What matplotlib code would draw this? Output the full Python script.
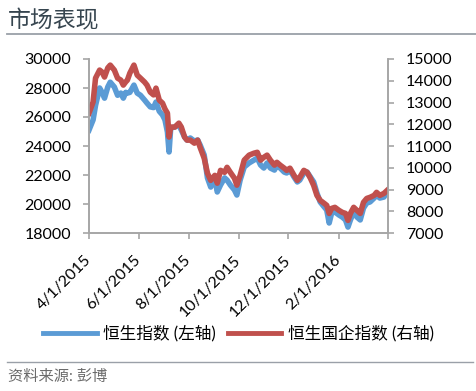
import pandas as pd
import matplotlib.pyplot as plt
from matplotlib.lines import Line2D

plt.rcParams['font.family'] = ['Lato', 'Noto Sans CJK SC', 'DejaVu Sans']

dates = [
    "2015-04-01", "2015-04-06", "2015-04-09", "2015-04-14", "2015-04-17", "2015-04-20",
    "2015-04-24", "2015-04-27", "2015-05-02", "2015-05-06", "2015-05-10", "2015-05-13",
    "2015-05-16", "2015-05-18", "2015-05-21", "2015-05-26", "2015-05-30", "2015-06-03",
    "2015-06-08", "2015-06-11", "2015-06-15", "2015-06-19", "2015-06-22", "2015-06-26",
    "2015-06-30", "2015-07-03", "2015-07-06", "2015-07-08", "2015-07-10", "2015-07-15",
    "2015-07-20", "2015-07-23", "2015-07-27", "2015-07-30", "2015-08-03", "2015-08-08",
    "2015-08-12", "2015-08-15", "2015-08-20", "2015-08-24", "2015-08-28", "2015-09-02",
    "2015-09-05", "2015-09-09", "2015-09-14", "2015-09-17", "2015-09-21", "2015-09-26",
    "2015-09-29", "2015-10-03", "2015-10-08", "2015-10-14", "2015-10-20", "2015-10-24",
    "2015-10-28", "2015-11-01", "2015-11-05", "2015-11-09", "2015-11-14", "2015-11-17",
    "2015-11-21", "2015-11-26", "2015-11-29", "2015-12-03", "2015-12-08", "2015-12-12",
    "2015-12-15", "2015-12-20", "2015-12-24", "2015-12-28", "2016-01-01", "2016-01-05",
    "2016-01-09", "2016-01-14", "2016-01-17", "2016-01-20", "2016-01-23", "2016-01-27",
    "2016-02-01", "2016-02-05", "2016-02-09", "2016-02-12", "2016-02-15", "2016-02-19",
    "2016-02-23", "2016-02-27", "2016-03-02", "2016-03-06", "2016-03-10", "2016-03-15",
    "2016-03-18", "2016-03-22", "2016-03-27", "2016-03-31",
]

# 恒生指数 (left axis)
hsi = [
    25100, 25800, 26800, 28000, 27700, 27300,
    28070, 28400, 28070, 27500, 27650, 27300,
    27700, 27650, 27700, 28200, 27650, 27500,
    27170, 26960, 26700, 26650, 27030, 26400,
    26140, 25800, 24970, 23590, 25240, 25310,
    25450, 25100, 24620, 24410, 24550, 24340,
    24410, 24070, 23380, 21800, 21170, 21800,
    20830, 21310, 21800, 21650, 21310, 20970,
    20620, 21650, 22550, 22830, 23030, 23170,
    22690, 22480, 22830, 22480, 22340, 22690,
    22480, 22200, 22140, 22340, 21860, 21520,
    21650, 22140, 22200, 21860, 21520, 20760,
    20140, 19790, 19590, 18690, 19380, 19450,
    19240, 19100, 18900, 18410, 18900, 19450,
    19100, 18900, 19720, 20070, 20140, 20410,
    20620, 20410, 20480, 20830,
]

# 恒生国企指数 (right axis)
hscei = [
    12510, 13020, 14120, 14490, 14400, 14170,
    14590, 14720, 14490, 14120, 14030, 13800,
    13950, 14030, 14350, 14720, 14260, 14120,
    13940, 13800, 13480, 13350, 13660, 13110,
    12970, 12700, 12510, 11410, 11870, 11870,
    12050, 11870, 11410, 11270, 11270, 11130,
    11270, 10940, 10440, 9750, 9420, 9650,
    9290, 9880, 9790, 10020, 9790, 9520,
    9200, 9650, 10350, 10580, 10670, 10710,
    10350, 10480, 10580, 10350, 10120, 10250,
    10120, 9980, 9880, 9980, 9650, 9420,
    9560, 9880, 9790, 9520, 9190, 8730,
    8500, 8360, 8270, 7900, 8130, 8180,
    8040, 7950, 7900, 7580, 7900, 8180,
    8040, 7900, 8410, 8590, 8640, 8730,
    8870, 8730, 8820, 8960,
]

tick_dates = ["2015-04-01", "2015-06-01", "2015-08-01", "2015-10-01",
              "2015-12-01", "2016-02-01", "2016-04-01"]
tick_labels = ["4/1/2015", "6/1/2015", "8/1/2015", "10/1/2015",
               "12/1/2015", "2/1/2016", ""]

blue = "#5b9bd5"
red = "#c0504d"
axis_gray = "#a6a6a6"

x = pd.to_datetime(dates)

fig = plt.figure(figsize=(4.77, 3.91), dpi=100)
ax = fig.add_axes([89 / 477, 1 - 233 / 391, 299 / 477, 174 / 391])
ax2 = ax.twinx()

ax.plot(x, hsi, color=blue, lw=4, solid_joinstyle="round")
ax2.plot(x, hscei, color=red, lw=4, solid_joinstyle="round")

ax.set_xlim(pd.Timestamp("2015-04-01"), pd.Timestamp("2016-04-01"))
ax.set_ylim(18000, 30000)
ax2.set_ylim(7000, 15000)
ax.set_yticks(range(18000, 30001, 2000))
ax2.set_yticks(range(7000, 15001, 1000))
ax.set_xticks(pd.to_datetime(tick_dates))
ax.set_xticklabels(tick_labels, rotation=45, ha="right", va="center",
                   rotation_mode="anchor")

for a in (ax, ax2):
    a.spines["top"].set_visible(False)
    for s in ("left", "right", "bottom"):
        a.spines[s].set_color(axis_gray)
        a.spines[s].set_linewidth(1.2)
    a.tick_params(colors=axis_gray, labelcolor="black", labelsize=11.5,
                  length=4, width=1.2, pad=9)
ax.tick_params(axis="x", pad=14)

# title and rules
fig.text(8 / 477, 1 - 20 / 391, "市场表现", fontsize=16.5, color="#36454f",
         ha="left", va="center")
fig.add_artist(Line2D([7 / 477, 1], [1 - 34 / 391] * 2, color="#9aa0a8", lw=1.3))
fig.add_artist(Line2D([7 / 477, 473 / 477], [1 - 362 / 391] * 2, color="#9aa0a8", lw=1.0))
fig.text(8 / 477, 1 - 377 / 391, "资料来源: 彭博", fontsize=11, color="#6b6b6b",
         ha="left", va="center")

handles = [Line2D([], [], color=blue, lw=3.5), Line2D([], [], color=red, lw=3.5)]
fig.legend(handles, ["恒生指数 (左轴)", "恒生国企指数 (右轴)"], loc="center",
           bbox_to_anchor=(0.5, 1 - 333 / 391), ncol=2, frameon=False,
           fontsize=12, handlelength=3.2, handletextpad=0.4, columnspacing=0.7)

fig.savefig("out.png", dpi=100)
